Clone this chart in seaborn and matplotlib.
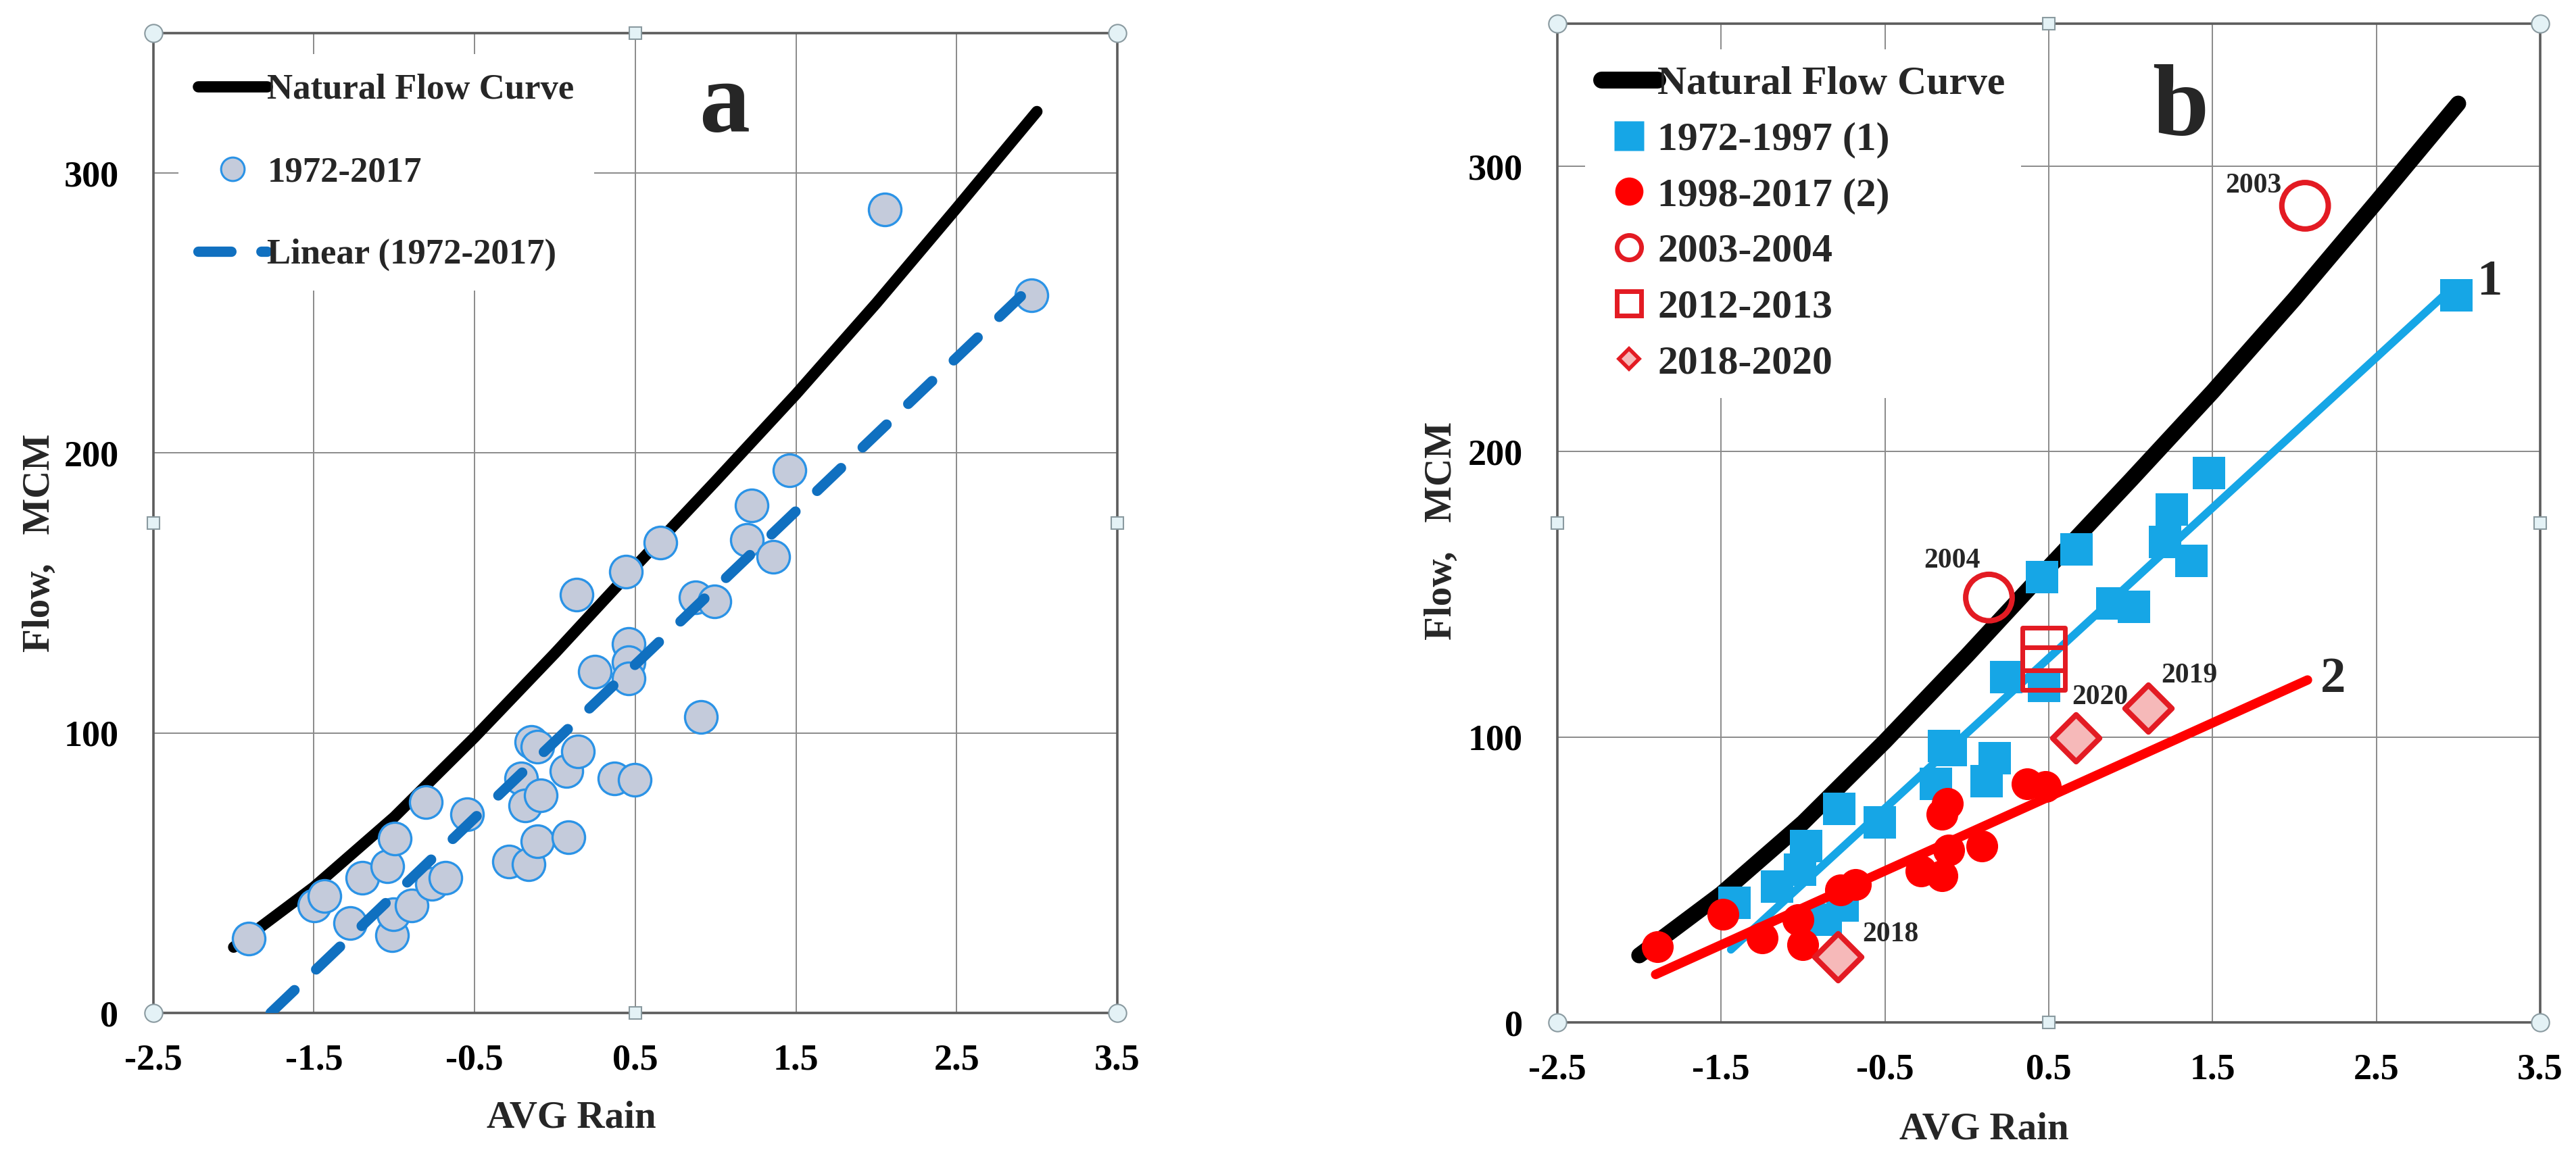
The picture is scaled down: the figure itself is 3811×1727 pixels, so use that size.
import numpy as np
import matplotlib
matplotlib.use('Agg')
import matplotlib.pyplot as plt
from matplotlib.lines import Line2D
from matplotlib.ticker import FixedLocator, MultipleLocator
import seaborn as sns

# Natural flow curve (same in both panels)
curve_x = [-2.0, -1.5, -1.0, -0.5, 0.0, 0.5, 1.0, 1.5, 2.0, 2.5, 3.0]
curve_y = [23.5, 45.0, 70.0, 98.5, 128.5, 159.5, 190.0, 221.0, 253.5, 287.5, 322.0]

# panel a: all years 1972-2017
rain_all = [-1.907, -1.497, -1.436, -1.275, -1.199, -1.045, -0.996, -1.015, -1.007, -0.892,
            -0.804, -0.766, -0.682, -0.548, -0.288, -0.211, -0.184, -0.165, -0.146, -0.108,
            -0.108, -0.089, 0.072, 0.084, 0.134, 0.141, 0.248, 0.371, 0.440, 0.459,
            0.459, 0.459, 0.497, 0.658, 0.876, 0.907, 0.991, 1.194, 1.224, 1.358,
            1.462, 2.055, 2.966]
flow_all = [26.6, 38.5, 41.7, 32.0, 48.2, 52.5, 62.2, 27.7, 35.3, 38.5,
            75.2, 46.1, 48.2, 70.9, 54.0, 83.8, 74.1, 53.2, 96.8, 95.0,
            61.2, 77.8, 86.4, 62.7, 149.4, 93.5, 122.0, 83.8, 157.6, 131.7,
            125.2, 119.4, 83.4, 168.0, 148.5, 105.8, 147.0, 169.0, 181.3, 163.0,
            193.9, 287.1, 256.4]
fit_all_x = [-1.77, 2.90]
fit_all_y = [0.0, 256.0]

# panel b: 1972-1997 (1)
rain_1 = [-1.42, -1.16, -1.02, -0.98, -0.86, -0.76, -0.78, -0.53, -0.19, -0.10,
          -0.14, 0.12, 0.17, 0.24, 0.47, 0.46, 0.67, 0.89, 1.02, 1.21,
          1.25, 1.37, 1.48, 2.99]
flow_1 = [42.0, 47.5, 53.5, 61.8, 36.0, 41.0, 74.9, 70.0, 83.6, 95.5,
          96.8, 84.6, 92.5, 120.9, 118.0, 156.0, 165.7, 146.9, 145.6, 168.3,
          179.8, 161.8, 192.5, 254.9]
fit1_x = [-1.44, 2.98]
fit1_y = [25.5, 258.3]

# panel b: 1998-2017 (2)
rain_2 = [-1.89, -1.49, -1.25, -1.03, -1.00, -0.77, -0.68, -0.28, -0.15, -0.15,
          -0.12, -0.11, 0.09, 0.37, 0.48]
flow_2 = [26.5, 38.0, 29.5, 36.0, 27.2, 46.5, 48.3, 53.0, 51.5, 73.0,
          76.8, 60.5, 61.8, 83.6, 82.7]
fit2_x = [-1.90, 2.08]
fit2_y = [16.8, 120.0]

# highlighted years
wet_years = ['2003', '2004']
wet_x = [2.065, 0.135]
wet_y = [286.2, 148.9]
mid_x = [0.47, 0.47]
mid_y = [130.9, 124.0]
recent_years = ['2018', '2019', '2020']
recent_x = [-0.786, 1.105, 0.664]
recent_y = [23.0, 110.2, 99.8]

sns.set_theme(style='white')
plt.rcParams['font.family'] = ['Liberation Serif', 'DejaVu Serif']
plt.rcParams['font.weight'] = 'bold'
plt.rcParams['axes.unicode_minus'] = False

C_BLUE_A = '#1070c0'
C_FACE_A = '#c4cbdb'
C_EDGE_A = '#2b93e6'
C_SKY = '#16a6e6'
C_RED = '#ff0000'
C_RED2 = '#e31b23'
C_PINK = '#f6b9b9'

fig = plt.figure(figsize=(38.12, 17.27), dpi=100)
ax1 = fig.add_axes([0.0595, 0.1320, 0.3741, 0.8396])
ax2 = fig.add_axes([0.6044, 0.1239, 0.3814, 0.8558])


def style_axes(ax, ylab_y):
    ax.set_xlim(-2.5, 3.5)
    ax.set_ylim(0, 350)
    ax.xaxis.set_major_locator(FixedLocator(np.arange(-2.5, 3.6, 1.0)))
    ax.xaxis.set_minor_locator(MultipleLocator(0.1))
    ax.yaxis.set_major_locator(FixedLocator([0, 100, 200, 300]))
    ax.yaxis.set_minor_locator(MultipleLocator(10))
    ax.tick_params(which='major', direction='out', length=13, width=1.5,
                   color='#7a7a7a', labelsize=39, labelcolor='black')
    ax.tick_params(axis='x', which='major', pad=20)
    ax.tick_params(axis='y', which='major', pad=24)
    ax.tick_params(which='minor', direction='out', length=9, width=1.5,
                   color='#7a7a7a')
    ax.grid(True, which='major', color='#8a8a8a', lw=1.4)
    ax.set_axisbelow(True)
    for sp in ax.spines.values():
        sp.set_color('#5c5c5c')
        sp.set_linewidth(2.6)
    ax.set_xlabel('AVG Rain', fontsize=41, fontweight='bold', va='center')
    ax.xaxis.set_label_coords(0.434, -0.107)
    ax.set_ylabel('Flow,   MCM', fontsize=41, fontweight='bold', va='center')
    ax.yaxis.set_label_coords(-0.118, ylab_y)
    # chart selection handles
    for fx in (0, 0.5, 1):
        for fy in (0, 0.5, 1):
            if fx == 0.5 and fy == 0.5:
                continue
            corner = fx != 0.5 and fy != 0.5
            ax.plot([fx], [fy], transform=ax.transAxes, clip_on=False, zorder=20,
                    marker='o' if corner else 's', ms=19 if corner else 13,
                    mfc='#e4f2f6', mec='#8a9aa0', mew=1.5, ls='none')


# ---------------- panel a ----------------
sns.lineplot(x=curve_x, y=curve_y, ax=ax1, color='black', lw=12, sort=False,
             estimator=None, solid_capstyle='round', zorder=2, legend=False)
sns.scatterplot(x=rain_all, y=flow_all, ax=ax1, s=1200, color=C_FACE_A,
                edgecolor=C_EDGE_A, linewidth=2.4, zorder=3, legend=False)
sns.lineplot(x=fit_all_x, y=fit_all_y, ax=ax1, color=C_BLUE_A, lw=11, sort=False,
             estimator=None, linestyle=(0, (3.2, 2.9)), dash_capstyle='round',
             zorder=4, legend=False)
style_axes(ax1, 0.48)
ax1.text(1.055, 315, 'a', fontsize=108, fontweight='bold', ha='center', va='baseline')

h_a = [Line2D([], [], color='black', lw=12, solid_capstyle='round'),
       Line2D([], [], ls='none', marker='o', ms=25, mfc=C_FACE_A, mec=C_EDGE_A, mew=2.2),
       Line2D([], [], color=C_BLUE_A, lw=11, linestyle=(0, (3.2, 2.9)),
              dash_capstyle='round')]
ax1.legend(h_a, ['Natural Flow Curve', '1972-2017', 'Linear (1972-2017)'],
           loc='upper left', bbox_to_anchor=(0.026, 0.9785), borderaxespad=0,
           prop=dict(family='Liberation Serif', weight='bold', size=38),
           handlelength=1.94, handletextpad=0.0, labelspacing=1.4, borderpad=0.55,
           frameon=True, fancybox=False, edgecolor='none', facecolor='white',
           framealpha=1)

# ---------------- panel b ----------------
sns.lineplot(x=curve_x, y=curve_y, ax=ax2, color='black', lw=17, sort=False,
             estimator=None, solid_capstyle='round', zorder=2, legend=False)
sns.scatterplot(x=rain_1, y=flow_1, ax=ax2, s=1150, marker='s', color=C_SKY,
                linewidth=0, zorder=3, legend=False)
sns.lineplot(x=fit1_x, y=fit1_y, ax=ax2, color=C_SKY, lw=8.5, sort=False,
             estimator=None, solid_capstyle='round', zorder=4, legend=False)
sns.scatterplot(x=rain_2, y=flow_2, ax=ax2, s=1150, marker='o', color=C_RED,
                linewidth=0, zorder=5, legend=False)
sns.lineplot(x=fit2_x, y=fit2_y, ax=ax2, color=C_RED, lw=10, sort=False,
             estimator=None, solid_capstyle='round', zorder=6, legend=False)
sns.scatterplot(x=wet_x, y=wet_y, ax=ax2, s=2450, marker='o', color='none',
                edgecolor=C_RED2, linewidth=5.8, zorder=7, legend=False)
sns.scatterplot(x=mid_x, y=mid_y, ax=ax2, s=2050, marker='s', color='none',
                edgecolor=C_RED2, linewidth=5, zorder=7, legend=False)
sns.scatterplot(x=recent_x, y=recent_y, ax=ax2, s=1250, marker='D', color=C_PINK,
                edgecolor=C_RED2, linewidth=5.8, zorder=7, legend=False)
style_axes(ax2, 0.492)
ax2.text(1.305, 311, 'b', fontsize=108, fontweight='bold', ha='center', va='baseline')

year_offsets = {'2003': (-55, 21), '2004': (-39, 39), '2018': (56, 24),
                '2019': (44, 34), '2020': (26, 43)}
for yr, xx, yy in zip(wet_years + recent_years, wet_x + recent_x, wet_y + recent_y):
    ax2.annotate(yr, (xx, yy), xytext=year_offsets[yr], textcoords='offset points',
                 fontsize=30, fontweight='bold', ha='center', va='center', zorder=9)
ax2.annotate('1', (fit1_x[1], fit1_y[1]), xytext=(37, 3), textcoords='offset points',
             fontsize=54, fontweight='bold', ha='center', va='center')
ax2.annotate('2', (fit2_x[1], fit2_y[1]), xytext=(27, 0), textcoords='offset points',
             fontsize=54, fontweight='bold', ha='center', va='center')

h_b = [Line2D([], [], color='black', lw=18, solid_capstyle='round'),
       Line2D([], [], ls='none', marker='s', ms=31, mfc=C_SKY, mec='none'),
       Line2D([], [], ls='none', marker='o', ms=30, mfc=C_RED, mec='none'),
       Line2D([], [], ls='none', marker='o', ms=26, mfc='none', mec=C_RED2, mew=5),
       Line2D([], [], ls='none', marker='s', ms=26, mfc='none', mec=C_RED2, mew=5),
       Line2D([], [], ls='none', marker='D', ms=15, mfc=C_PINK, mec=C_RED2, mew=4)]
ax2.legend(h_b, ['Natural Flow Curve', '1972-1997 (1)', '1998-2017 (2)', '2003-2004',
                 '2012-2013', '2018-2020'],
           loc='upper left', bbox_to_anchor=(0.028, 0.974), borderaxespad=0,
           prop=dict(family='Liberation Serif', weight='bold', size=43),
           handlelength=1.4, handletextpad=0.0, labelspacing=0.465, borderpad=0.4,
           frameon=True, fancybox=False, edgecolor='none', facecolor='white',
           framealpha=1)

fig.savefig('out.png', dpi=100, facecolor='white')
